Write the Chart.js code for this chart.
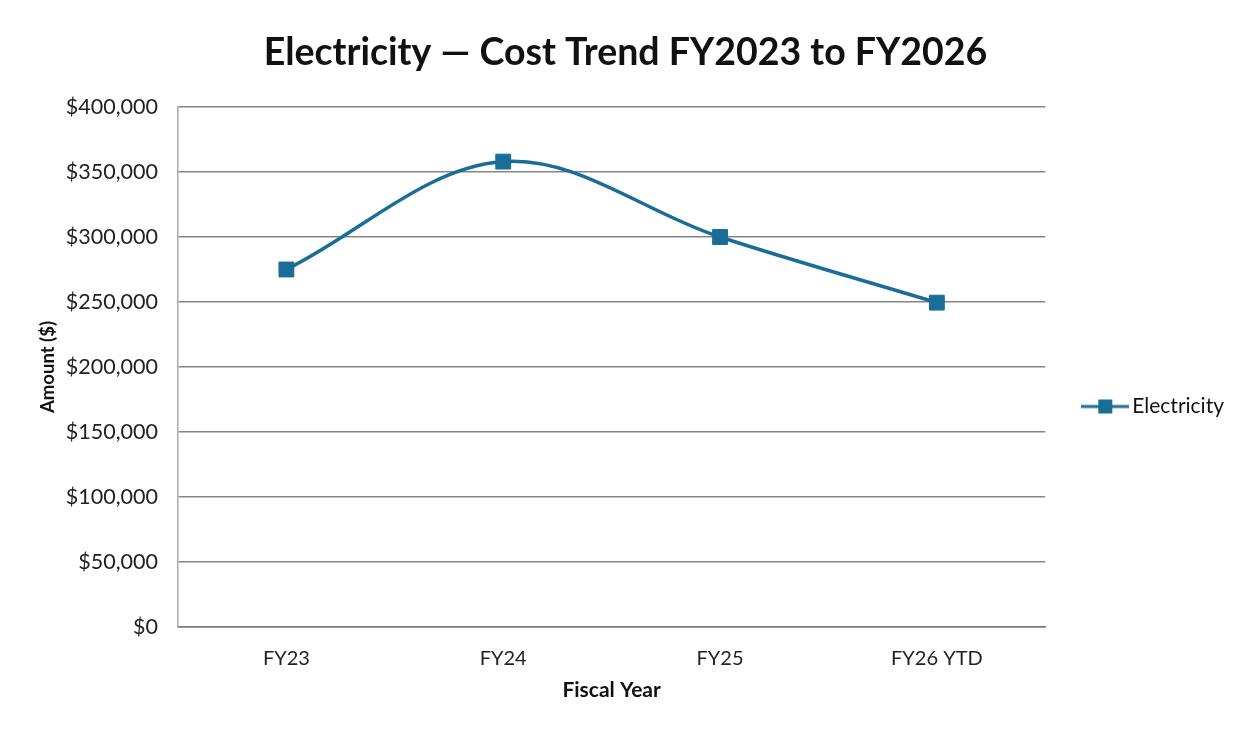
<!DOCTYPE html>
<html>
<head>
<meta charset="utf-8">
<title>Electricity — Cost Trend</title>
<script src="https://cdn.jsdelivr.net/npm/chart.js@4"></script>
<style>
  html, body { margin: 0; padding: 0; background: #fff; }
  #wrap { width: 1244px; height: 730px; position: relative; }
</style>
</head>
<body>
<div id="wrap"><canvas id="costChart"></canvas></div>
<script>
const fiscalYears = ["FY23", "FY24", "FY25", "FY26 YTD"];
const electricityCost = [275000, 358000, 300000, 249500];
const yTicks = [0, 50000, 100000, 150000, 200000, 250000, 300000, 350000, 400000];

const lineColor = "#1a6d97";
const fontFamily = "Lato, 'Open Sans', sans-serif";

// legend swatch: short line with a square marker in the middle
function legendSwatch() {
  const c = document.createElement("canvas");
  c.width = 48; c.height = 16;
  const g = c.getContext("2d");
  g.strokeStyle = lineColor;
  g.lineWidth = 3;
  g.beginPath(); g.moveTo(0, 8); g.lineTo(48, 8); g.stroke();
  g.fillStyle = lineColor;
  g.fillRect(17, 1, 14, 14);
  return c;
}

const money = v => "$" + v.toLocaleString("en-US");

const ctx = document.getElementById("costChart").getContext("2d");
new Chart(ctx, {
  type: "line",
  data: {
    labels: fiscalYears,
    datasets: [{
      label: "Electricity",
      data: electricityCost,
      borderColor: lineColor,
      backgroundColor: lineColor,
      borderWidth: 3.5,
      tension: 0.35,
      pointStyle: "rect",
      pointRadius: 10.5,
      pointHoverRadius: 10.5,
      pointBorderWidth: 1,
      pointBackgroundColor: lineColor,
      pointBorderColor: lineColor,
      fill: false
    }]
  },
  options: {
    responsive: true,
    maintainAspectRatio: false,
    animation: false,
    layout: { padding: { left: 17, right: 10, top: 0, bottom: 23 } },
    plugins: {
      title: {
        display: true,
        text: "Electricity — Cost Trend FY2023 to FY2026",
        color: "#111",
        font: { family: fontFamily, size: 37.5, weight: "bold" },
        padding: { top: 30, bottom: 32 }
      },
      legend: {
        position: "right",
        // blank title only pushes the entry a little below the middle
        title: { display: true, text: " ", font: { size: 10 }, padding: { top: 0, bottom: 94 } },
        labels: {
          usePointStyle: true,
          pointStyleWidth: 33,
          color: "#111",
          font: { family: fontFamily, size: 21 },
          padding: 43.5,
          generateLabels: chart => chart.data.datasets.map((ds, i) => ({
            text: ds.label,
            pointStyle: legendSwatch(),
            datasetIndex: i,
            lineWidth: 0,
            fontColor: "#111"
          }))
        }
      },
      tooltip: { enabled: false }
    },
    scales: {
      x: {
        offset: true,
        grid: { display: false, drawTicks: false },
        border: { display: true, color: "#777", width: 1.5 },
        ticks: { color: "#222", padding: 20, font: { family: fontFamily, size: 20 } },
        title: {
          display: true,
          text: "Fiscal Year",
          color: "#111",
          font: { family: fontFamily, size: 21, weight: "bold" },
          padding: { top: 4, bottom: 4 }
        },
        afterFit: axis => { axis.height = 80; }
      },
      y: {
        min: 0,
        max: 400000,
        afterBuildTicks: axis => { axis.ticks = yTicks.map(v => ({ value: v })); },
        grid: { color: "#858585", lineWidth: 1.5, drawTicks: false },
        border: { display: true, color: "#aaa", width: 1.5 },
        ticks: {
          color: "#222",
          padding: 20,
          font: { family: fontFamily, size: 21.5 },
          callback: v => money(v)
        },
        title: {
          display: true,
          text: "Amount ($)",
          color: "#111",
          font: { family: fontFamily, size: 18.5, weight: "bold" },
          padding: { top: 20, bottom: 4 }
        },
        afterFit: axis => { axis.width = 161; }
      }
    }
  }
});
</script>
</body>
</html>
